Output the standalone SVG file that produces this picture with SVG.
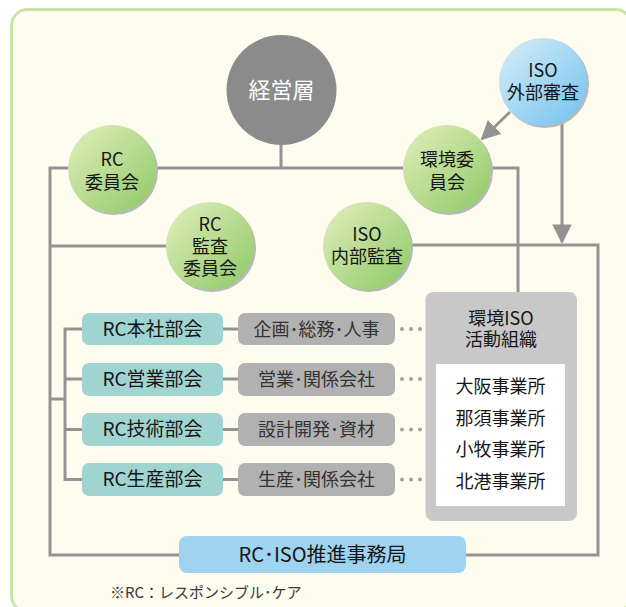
<svg xmlns="http://www.w3.org/2000/svg" width="626" height="607" viewBox="0 0 626 607">
<defs>
<linearGradient id="gGreen" x1="0" y1="0" x2="1" y2="1">
<stop offset="0" stop-color="#e2efbd"/>
<stop offset="1" stop-color="#8ec865"/>
</linearGradient>
<linearGradient id="gBlue" x1="0" y1="0" x2="1" y2="1">
<stop offset="0" stop-color="#d8eef9"/>
<stop offset="1" stop-color="#72c0ee"/>
</linearGradient>
<marker id="arr" viewBox="0 0 10 10" refX="9" refY="5" markerWidth="6.5" markerHeight="6.5" markerUnits="strokeWidth" orient="auto">
<path d="M0,0 L10,5 L0,10 z" fill="#929292"/>
</marker>
<style>
.ln{fill:none;stroke:#939393;stroke-width:3}
.dot{fill:none;stroke:#a0a0a0;stroke-width:4;stroke-linecap:round;stroke-dasharray:0 9}
.t{font-family:"Noto Sans CJK JP","Noto Sans",sans-serif;fill:#161616;text-anchor:middle}
.c{font-size:18px}
.d{font-size:19px}
.shadow{fill:#b8b8b8}
.dept{fill:#a0d4d1}
.grey{fill:#b1b1b1}
.gt{fill:#333333;font-size:18px}
</style>
</defs>
<rect x="11.5" y="9.5" width="620" height="602" rx="16" fill="#fefcef" stroke="#c9e4a6" stroke-width="3"/>

<g id="connectors">
<polyline class="ln" points="281,145 281,168"/>
<polyline class="ln" points="518,292 518,168 50,168 50,555 180,555"/>
<polyline class="ln" points="50,246 166,246"/>
<polyline class="ln" points="412,245 598,245 598,555 466,555"/>
<polyline class="ln" points="50,399 65,399"/>
<polyline class="ln" points="82,329 65,329 65,479.5 82,479.5"/>
<polyline class="ln" points="65,379 82,379"/>
<polyline class="ln" points="65,429.5 82,429.5"/>
<line class="ln" x1="223" y1="329" x2="238" y2="329"/>
<line class="ln" x1="223" y1="379" x2="238" y2="379"/>
<line class="ln" x1="223" y1="429.5" x2="238" y2="429.5"/>
<line class="ln" x1="223" y1="479.5" x2="238" y2="479.5"/>
<line class="dot" x1="402" y1="329" x2="421" y2="329"/>
<line class="dot" x1="402" y1="379" x2="421" y2="379"/>
<line class="dot" x1="402" y1="429.5" x2="421" y2="429.5"/>
<line class="dot" x1="402" y1="479.5" x2="421" y2="479.5"/>
<line class="ln" x1="510" y1="112" x2="482" y2="139" marker-end="url(#arr)"/>
<line class="ln" x1="562" y1="124" x2="562" y2="242" marker-end="url(#arr)"/>
</g>

<g id="keiei">
<circle cx="281.5" cy="90" r="55" fill="#8b8b8b"/>
<text class="t" x="281.5" y="98" font-size="22" style="fill:#ffffff">経営層</text>
</g>

<g id="rc-iinkai">
<circle class="shadow" cx="114" cy="171" r="44"/>
<circle cx="112" cy="169" r="44" fill="url(#gGreen)"/>
<text class="t c" x="112" y="166">RC</text>
<text class="t c" x="112" y="189">委員会</text>
</g>

<g id="rc-kansa">
<circle class="shadow" cx="212" cy="248" r="44"/>
<circle cx="210" cy="246" r="44" fill="url(#gGreen)"/>
<text class="t c" x="210" y="231">RC</text>
<text class="t c" x="210" y="253">監査</text>
<text class="t c" x="210" y="275">委員会</text>
</g>

<g id="kankyo-iinkai">
<circle class="shadow" cx="449" cy="171" r="44"/>
<circle cx="447" cy="169" r="44" fill="url(#gGreen)"/>
<text class="t c" x="447" y="166">環境委</text>
<text class="t c" x="447" y="189">員会</text>
</g>

<g id="iso-naibu">
<circle class="shadow" cx="369" cy="248" r="44"/>
<circle cx="367" cy="246" r="44" fill="url(#gGreen)"/>
<text class="t c" x="367" y="241">ISO</text>
<text class="t c" x="367" y="263">内部監査</text>
</g>

<g id="iso-gaibu">
<circle class="shadow" cx="545" cy="84" r="44"/>
<circle cx="543" cy="82" r="44" fill="url(#gBlue)"/>
<text class="t c" x="543" y="77">ISO</text>
<text class="t c" x="543" y="99">外部審査</text>
</g>

<g id="rc-honsha">
<rect class="dept" x="82" y="313" width="141" height="32" rx="7"/>
<text class="t d" x="152.5" y="335.5">RC本社部会</text>
</g>
<g id="rc-eigyo">
<rect class="dept" x="82" y="363" width="141" height="33" rx="7"/>
<text class="t d" x="152.5" y="385.5">RC営業部会</text>
</g>
<g id="rc-gijutsu">
<rect class="dept" x="82" y="413" width="141" height="33" rx="7"/>
<text class="t d" x="152.5" y="436">RC技術部会</text>
</g>
<g id="rc-seisan">
<rect class="dept" x="82" y="463" width="141" height="33" rx="7"/>
<text class="t d" x="152.5" y="486">RC生産部会</text>
</g>

<g id="g-kikaku">
<rect class="grey" x="238" y="313" width="157" height="32" rx="7"/>
<text class="t gt" x="316.5" y="335.5">企画･総務･人事</text>
</g>
<g id="g-eigyo">
<rect class="grey" x="238" y="363" width="157" height="33" rx="7"/>
<text class="t gt" x="316.5" y="385.5">営業･関係会社</text>
</g>
<g id="g-sekkei">
<rect class="grey" x="238" y="413" width="157" height="33" rx="7"/>
<text class="t gt" x="316.5" y="436">設計開発･資材</text>
</g>
<g id="g-seisan">
<rect class="grey" x="238" y="463" width="157" height="33" rx="7"/>
<text class="t gt" x="316.5" y="486">生産･関係会社</text>
</g>

<g id="kankyo-iso">
<rect x="425.5" y="292" width="151.5" height="229" rx="8" fill="#c8c8c8"/>
<text class="t c" x="501" y="325">環境ISO</text>
<text class="t c" x="501" y="346">活動組織</text>
<rect x="436" y="364" width="129" height="142" fill="#ffffff"/>
<text class="t c" x="500.5" y="393">大阪事業所</text>
<text class="t c" x="500.5" y="424.5">那須事業所</text>
<text class="t c" x="500.5" y="456">小牧事業所</text>
<text class="t c" x="500.5" y="488">北港事業所</text>
</g>

<g id="suishin">
<rect x="179" y="536" width="287" height="37" rx="8" fill="#9fd4f1"/>
<text class="t" x="322.5" y="561.5" font-size="20">RC･ISO推進事務局</text>
</g>

<text class="t" x="110" y="598" font-size="15" style="text-anchor:start;fill:#3a3a3a">※RC：レスポンシブル･ケア</text>
</svg>
